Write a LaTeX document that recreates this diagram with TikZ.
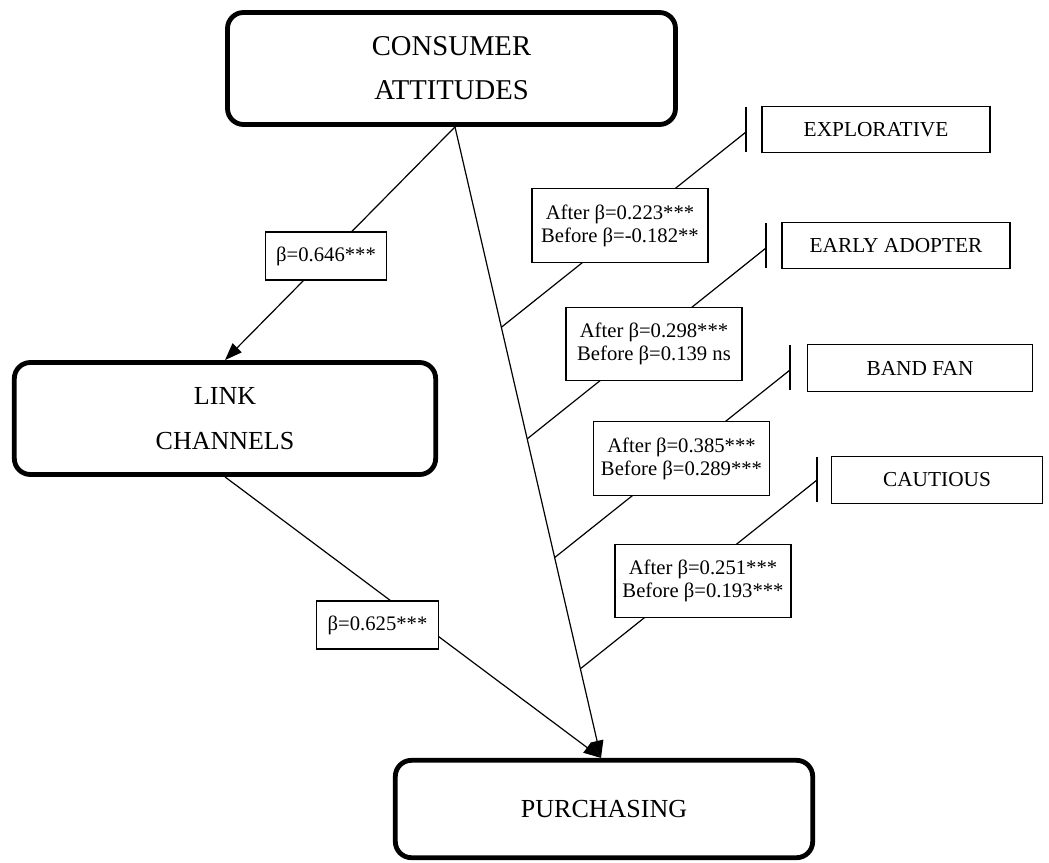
\documentclass[tikz,border=0pt]{standalone}
\usepackage{fontspec}
\setmainfont{Liberation Serif}
\usetikzlibrary{arrows.meta,calc}
\begin{document}
\begin{tikzpicture}[x=0.75pt,y=-0.75pt,
  bigbox/.style={draw,line width=3.6pt,rounded corners=12pt,inner sep=0pt,align=center},
  catbox/.style={draw,line width=0.8pt,inner sep=0pt,minimum height=35pt,font=\fontsize{16}{19}\selectfont},
  modbox/.style={draw,fill=white,line width=0.8pt,inner sep=0pt,minimum width=132pt,minimum height=55pt,align=center,font=\fontsize{15.5}{17.25}\selectfont},
  betabox/.style={draw,fill=white,line width=0.8pt,inner sep=0pt,minimum width=91pt,minimum height=36pt,font=\fontsize{15.5}{18}\selectfont},
  conn/.style={line width=0.9pt},
  arr/.style={line width=0.9pt,-{Triangle[length=13pt,width=9.5pt]}},
  barline/.style={line width=1.2pt}]
\useasboundingbox (0,0) rectangle (1049,863);
% main construct boxes
\node[bigbox,minimum width=336pt,minimum height=84pt,font=\fontsize{21.5}{33}\selectfont] (ca) at (451.5,68.5) {CONSUMER\\ATTITUDES};
\node[bigbox,minimum width=316pt,minimum height=84pt,font=\fontsize{19.5}{33.75}\selectfont] (lc) at (225,418.5) {LINK\\CHANNELS};
\node[bigbox,minimum width=313pt,minimum height=73pt,font=\fontsize{19.5}{24}\selectfont] (pu) at (604,809) {PURCHASING};
% moderator category boxes
\node[catbox,minimum width=171pt] (ex) at (876,129.5) {EXPLORATIVE};
\node[catbox,minimum width=171pt] (ea) at (896,245.5) {EARLY ADOPTER};
\node[catbox,minimum width=169pt] (bf) at (920,368) {BAND FAN};
\node[catbox,minimum width=158pt] (cu) at (937,480) {CAUTIOUS};
% coordinates
\coordinate (caout) at ($(ca.south)+(3.5,0)$);
\coordinate (putip) at ($(pu.north)+(-3,0)$);
\coordinate (m1) at ($(caout)!0.3175!(putip)$);
\coordinate (m2) at ($(caout)!0.4944!(putip)$);
\coordinate (m3) at ($(caout)!0.6825!(putip)$);
\coordinate (m4) at ($(caout)!0.8587!(putip)$);
\coordinate (b1) at (746,132);
\coordinate (b2) at (766,248);
\coordinate (b3) at (790,370);
\coordinate (b4) at (817,480);
\coordinate (b1t) at (746,107); \coordinate (b1b) at (746,152);
\coordinate (b2t) at (766,223); \coordinate (b2b) at (766,268);
\coordinate (b3t) at (790,345); \coordinate (b3b) at (790,390);
\coordinate (b4t) at (817,457); \coordinate (b4b) at (817,502);
% connectors
\draw[arr] (caout) -- (lc.north);
\draw[arr] (lc.south) -- (putip);
\draw[arr] (caout) -- (putip);
\draw[conn] (m1) -- (b1);
\draw[conn] (m2) -- (b2);
\draw[conn] (m3) -- (b3);
\draw[conn] (m4) -- (b4);
\draw[barline] (b1t) -- (b1b);
\draw[barline] (b2t) -- (b2b);
\draw[barline] (b3t) -- (b3b);
\draw[barline] (b4t) -- (b4b);
% labels
\node[betabox] (l1) at (326,256) {β=0.646***};
\node[betabox] (l2) at (377.5,625) {β=0.625***};
\node[modbox] (k1) at (620,225.5) {After β=0.223***\\Before β=-0.182**};
\node[modbox] (k2) at (654,344) {After β=0.298***\\Before β=0.139 ns};
\node[modbox] (k3) at (681.5,458.5) {After β=0.385***\\Before β=0.289***};
\node[modbox] (k4) at (703,581) {After β=0.251***\\Before β=0.193***};
\end{tikzpicture}
\end{document}
